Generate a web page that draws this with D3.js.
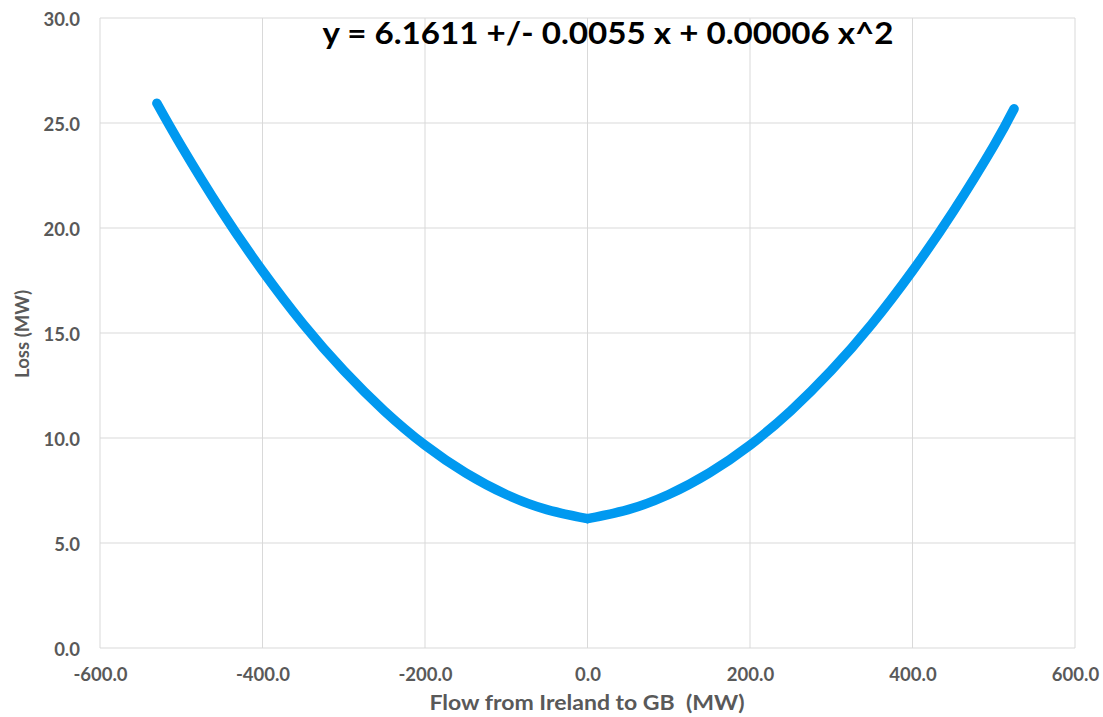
<!DOCTYPE html>
<html>
<head>
<meta charset="utf-8">
<script src="https://cdn.jsdelivr.net/npm/d3@7"></script>
<style>
  body { margin: 0; background: #fff; }
  .tick text { font-family: Lato, "DejaVu Sans", sans-serif; font-weight: 700; fill: #595959; }
</style>
</head>
<body>
<div id="chart"></div>
<script>
// flow (MW) vs loss (MW)
var flowValues = [-530, -500, -450, -400, -350, -300, -250, -200, -150, -100, -50, 0,
                  50, 100, 150, 200, 250, 300, 350, 400, 450, 500, 525];
var lossValues = [25.94, 23.91, 20.78, 17.96, 15.43, 13.21, 11.29, 9.66, 8.34, 7.31, 6.59, 6.16,
                  6.59, 7.31, 8.34, 9.66, 11.29, 13.21, 15.43, 17.96, 20.78, 23.91, 25.68];
var xTicks = [-600, -400, -200, 0, 200, 400, 600];
var yTicks = [0, 5, 10, 15, 20, 25, 30];
var titleText = "y = 6.1611 +/- 0.0055 x + 0.00006 x^2";

var svgWidth = 1103, svgHeight = 717;
var margin = {top: 18, left: 100, right: 28, bottom: 69};
var chartWidth = svgWidth - margin.left - margin.right;
var chartHeight = svgHeight - margin.top - margin.bottom;

var svg = d3.select("#chart").append("svg")
    .attr("width", svgWidth)
    .attr("height", svgHeight);

var chartGroup = svg.append("g")
    .attr("transform", `translate(${margin.left}, ${margin.top})`);

var xScale = d3.scaleLinear().domain([-600, 600]).range([0, chartWidth]);
var yScale = d3.scaleLinear().domain([0, 30]).range([chartHeight, 0]);

//gridlines
chartGroup.append("g").selectAll("line.v")
    .data(xTicks).enter().append("line")
    .attr("x1", d => xScale(d)).attr("x2", d => xScale(d))
    .attr("y1", 0).attr("y2", chartHeight)
    .attr("stroke", "#d9d9d9").attr("stroke-width", 1);

chartGroup.append("g").selectAll("line.h")
    .data(yTicks).enter().append("line")
    .attr("x1", 0).attr("x2", chartWidth)
    .attr("y1", d => yScale(d)).attr("y2", d => yScale(d))
    .attr("stroke", "#d9d9d9").attr("stroke-width", 1);

//plain hyphen minus like the original
var fmt = d => d3.format(".1f")(d).replace("\u2212", "-");

//axes (labels only)
var bottomAxis = d3.axisBottom(xScale).tickValues(xTicks).tickSize(0).tickPadding(20)
    .tickFormat(fmt);
var leftAxis = d3.axisLeft(yScale).tickValues(yTicks).tickSize(0).tickPadding(20)
    .tickFormat(fmt);

var xg = chartGroup.append("g")
    .attr("transform", `translate(0, ${chartHeight})`)
    .call(bottomAxis);
xg.select(".domain").remove();
xg.selectAll("text").style("font-size", "18.5px");

var yg = chartGroup.append("g").call(leftAxis);
yg.select(".domain").remove();
yg.selectAll("text").style("font-size", "18.5px").attr("dy", "0.42em");

//curve, drawn as two halves so the kink at 0 stays
var points = flowValues.map((f, i) => ({flow: f, loss: lossValues[i]}));
var line = d3.line()
    .x(d => xScale(d.flow))
    .y(d => yScale(d.loss))
    .curve(d3.curveNatural);

var halves = [points.filter(d => d.flow <= 0), points.filter(d => d.flow >= 0)];

chartGroup.selectAll("path.curve")
    .data(halves)
    .enter().append("path")
    .attr("class", "curve")
    .attr("d", line)
    .attr("fill", "none")
    .attr("stroke", "#0099f0")
    .attr("stroke-width", 9.5)
    .attr("stroke-linecap", "round")
    .attr("stroke-linejoin", "round");

//title / equation
svg.append("text")
    .attr("x", 608)
    .attr("y", 44)
    .attr("text-anchor", "middle")
    .attr("textLength", 571)
    .attr("lengthAdjust", "spacingAndGlyphs")
    .style("font-family", "Lato, 'Open Sans', sans-serif")
    .style("font-weight", 700)
    .style("font-size", "31px")
    .style("fill", "#000")
    .text(titleText);

//axis titles
svg.append("text")
    .attr("x", 587)
    .attr("y", 710)
    .attr("text-anchor", "middle")
    .attr("textLength", 315)
    .attr("lengthAdjust", "spacingAndGlyphs")
    .style("font-family", "Lato, sans-serif")
    .style("font-weight", 700)
    .style("font-size", "20px")
    .style("fill", "#595959")
    .attr("xml:space", "preserve")
    .text("Flow from Ireland to GB  (MW)");

svg.append("text")
    .attr("transform", "rotate(-90)")
    .attr("x", -334)
    .attr("y", 29)
    .attr("text-anchor", "middle")
    .attr("textLength", 88)
    .attr("lengthAdjust", "spacingAndGlyphs")
    .style("font-family", "Lato, sans-serif")
    .style("font-weight", 700)
    .style("font-size", "19px")
    .style("fill", "#595959")
    .text("Loss (MW)");
</script>
</body>
</html>
